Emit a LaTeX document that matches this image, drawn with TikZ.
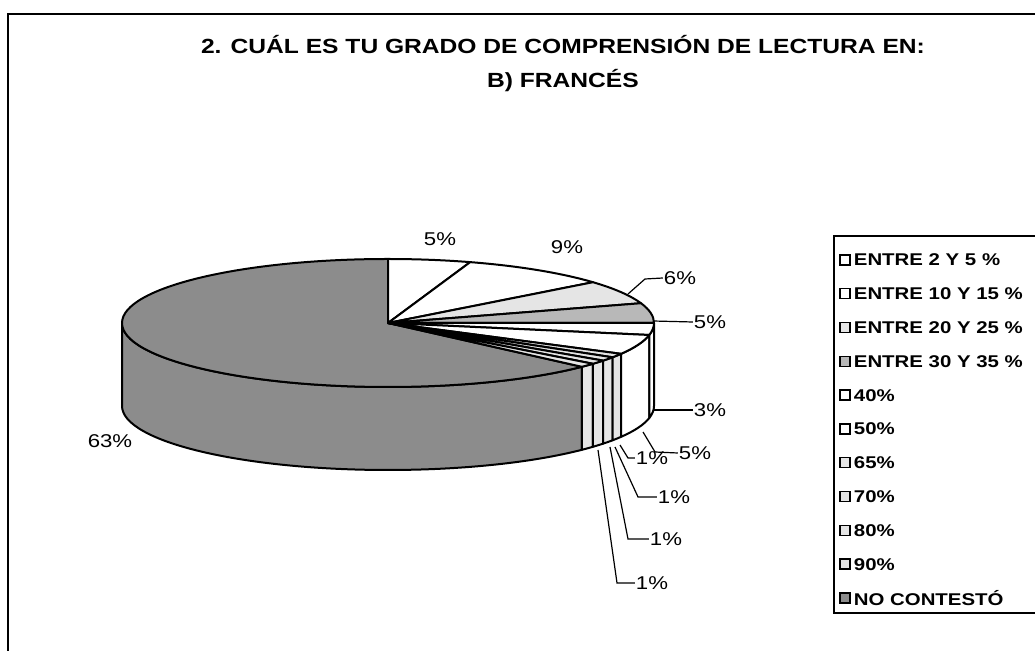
\documentclass[tikz,border=0pt]{standalone}
\usepackage{fontspec}
\setmainfont{Liberation Sans}[FakeStretch=1.2]
\usetikzlibrary{positioning}
\tikzset{slice/.style={draw, line width=2pt, line join=round},
% fills of the slices, the scanned dots are taken as grey
dark/.style={slice, fill=black!45},
mid/.style={slice, fill=black!28},
light/.style={slice, fill=black!10},
blank/.style={slice, fill=white},
pct/.style={font=\fontsize{18.5}{20}\selectfont, inner sep=1pt},
leader/.style={line width=1.2pt},
key/.style={draw, line width=1.4pt, minimum size=10pt, inner sep=0pt},
keytext/.style={font=\bfseries\fontsize{17}{19}\selectfont, inner sep=1pt}
}
% outer wall of a slice, from angle #1 to angle #2
\newcommand{\pieWall}[3]{\draw[#3] (pc) ++(#1:266pt and 64pt) arc[start angle=#1, end angle=#2, x radius=266pt, y radius=64pt] -- ++(0,-83) arc[start angle=#2, end angle=#1, x radius=266pt, y radius=64pt] -- cycle;}
% top face of a slice
\newcommand{\pieTop}[3]{\draw[#3] (pc) -- ++(#1:266pt and 64pt) arc[start angle=#1, end angle=#2, x radius=266pt, y radius=64pt] -- cycle;}

\begin{document}
\begin{tikzpicture}[x=1pt,y=1pt]
  \useasboundingbox (0,0) rectangle (1035,650);
  \clip (0,0) rectangle (1035,650);
  \draw[line width=1.6pt] (8,-10) -- (8,636) -- (1045,636);
  \node[align=center, font=\bfseries\fontsize{20.5}{34}\selectfont] (title) at (563,586) {2. CUÁL ES TU GRADO DE COMPRENSIÓN DE LECTURA EN:\\B) FRANCÉS};
  \coordinate (pc) at (388,327);
  % walls in front
  \pieWall{180}{316.8}{dark}
  \pieWall{316.8}{320.4}{light}
  \pieWall{320.4}{324}{light}
  \pieWall{324}{327.6}{light}
  \pieWall{327.6}{331.2}{light}
  \pieWall{331.2}{349.2}{blank}
  \pieWall{349.2}{360}{blank}
  % top faces
  \pieTop{90}{316.8}{dark}
  \pieTop{72}{90}{blank}
  \pieTop{39.6}{72}{blank}
  \pieTop{18}{39.6}{light}
  \pieTop{0}{18}{mid}
  \pieTop{-10.8}{0}{blank}
  \pieTop{-28.8}{-10.8}{blank}
  \pieTop{-32.4}{-28.8}{light}
  \pieTop{-36}{-32.4}{light}
  \pieTop{-39.6}{-36}{light}
  \pieTop{-43.2}{-39.6}{light}
  % data labels
  \node[pct] (l1) at (440,411) {5\%};
  \node[pct] (l2) at (567,403) {9\%};
  \node[pct] (l3) at (680,372) {6\%};
  \node[pct] (l4) at (710,328) {5\%};
  \node[pct] (l5) at (710,240) {3\%};
  \node[pct] (l6) at (695,197) {5\%};
  \node[pct] (l7) at (652,192) {1\%};
  \node[pct] (l8) at (674,153) {1\%};
  \node[pct] (l9) at (666,111) {1\%};
  \node[pct] (l10) at (652,67) {1\%};
  \node[pct] (l11) at (110,209) {63\%};
  \coordinate (a3) at (628,356);
  \coordinate (a4) at (653,329);
  \coordinate (a5) at (654,240);
  \coordinate (a6) at (643,218);
  \coordinate (a7) at (620,205);
  \coordinate (a8) at (615,203);
  \coordinate (a9) at (610,203);
  \coordinate (a10) at (598,200);
  \draw[leader] (a3) -- ++(17,15) -- (l3.west);
  \draw[leader] (a4) -- (l4.west);
  \draw[leader] (a5) -- (l5.west);
  \draw[leader] (a6) -- ++(12,-20) -- (l6.west);
  \draw[leader] (a7) -- ++(8,-13) -- (l7.west);
  \draw[leader] (a8) -- ++(23,-50) -- (l8.west);
  \draw[leader] (a9) -- ++(18,-92) -- (l9.west);
  \draw[leader] (a10) -- ++(19,-133) -- (l10.west);
  % legend
  \draw[line width=1.6pt] (1045,414) -- (834,414) -- (834,37) -- (1045,37);
  \node[key, fill=white] (k1) at (845,390) {};
  \node[keytext, right=2pt of k1] (t1) {ENTRE 2 Y 5 \%};
  \node[key, fill=white, below=22.4pt of k1] (k2) {};
  \node[keytext, right=2pt of k2] (t2) {ENTRE 10 Y 15 \%};
  \node[key, fill=black!10, below=22.4pt of k2] (k3) {};
  \node[keytext, right=2pt of k3] (t3) {ENTRE 20 Y 25 \%};
  \node[key, fill=black!28, below=22.4pt of k3] (k4) {};
  \node[keytext, right=2pt of k4] (t4) {ENTRE 30 Y 35 \%};
  \node[key, fill=white, below=22.4pt of k4] (k5) {};
  \node[keytext, right=2pt of k5] (t5) {40\%};
  \node[key, fill=white, below=22.4pt of k5] (k6) {};
  \node[keytext, right=2pt of k6] (t6) {50\%};
  \node[key, fill=black!10, below=22.4pt of k6] (k7) {};
  \node[keytext, right=2pt of k7] (t7) {65\%};
  \node[key, fill=black!10, below=22.4pt of k7] (k8) {};
  \node[keytext, right=2pt of k8] (t8) {70\%};
  \node[key, fill=black!10, below=22.4pt of k8] (k9) {};
  \node[keytext, right=2pt of k9] (t9) {80\%};
  \node[key, fill=black!10, below=22.4pt of k9] (k10) {};
  \node[keytext, right=2pt of k10] (t10) {90\%};
  \node[key, fill=black!45, below=22.4pt of k10] (k11) {};
  \node[keytext, right=2pt of k11] (t11) {NO CONTESTÓ};
\end{tikzpicture}
\end{document}
